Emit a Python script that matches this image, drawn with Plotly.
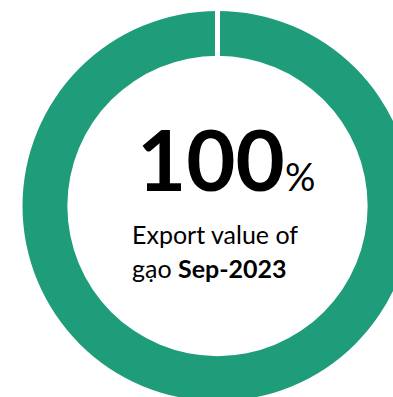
import plotly.graph_objects as go

# Data
labels = ["gạo"]
values = [100]
share_text = "100"
caption_line1 = "Export value of"
caption_line2_plain = "gạo "
caption_line2_bold = "Sep-2023"

W, H = 413, 401
GREEN = "#1F9C7A"

def px(x):
    return x / W

def py(y):
    return 1 - y / H

fig = go.Figure(
    go.Pie(
        labels=labels,
        values=values,
        hole=0.77,
        sort=False,
        direction="clockwise",
        rotation=0,
        textinfo="none",
        hoverinfo="label+percent",
        marker=dict(colors=[GREEN], line=dict(color="white", width=0)),
        domain=dict(x=[px(22.5), px(412.5)], y=[py(401), py(11)]),
        showlegend=False,
    )
)

# white separator at the start of the ring (12 o'clock)
fig.add_shape(
    type="line", xref="paper", yref="paper",
    x0=px(217.5), x1=px(217.5), y0=py(60), y1=py(8),
    line=dict(color="white", width=5),
)

FONT = "Lato, Carlito, Calibri, sans-serif"
fig.add_annotation(
    x=px(135), y=py(211), xref="paper", yref="paper",
    xanchor="left", yanchor="bottom",
    text=f"<b>{share_text}</b><span style='font-size:38px'>%</span>",
    showarrow=False,
    font=dict(family=FONT, size=85, color="black"),
)
fig.add_annotation(
    x=px(130), y=py(234), xref="paper", yref="paper",
    xanchor="left", yanchor="middle",
    text=caption_line1,
    showarrow=False,
    font=dict(family=FONT, size=25, color="black"),
)
fig.add_annotation(
    x=px(130), y=py(268), xref="paper", yref="paper",
    xanchor="left", yanchor="middle",
    text=f"{caption_line2_plain}<b>{caption_line2_bold}</b>",
    showarrow=False,
    font=dict(family=FONT, size=25, color="black"),
)

fig.update_layout(
    width=W, height=H,
    margin=dict(l=0, r=0, t=0, b=0),
    paper_bgcolor="white",
    plot_bgcolor="white",
)

fig.write_html(
    "out.html",
    config={"displayModeBar": False},
    post_script="document.body.style.margin='0';document.body.style.overflow='hidden';document.documentElement.style.overflow='hidden';",
)
